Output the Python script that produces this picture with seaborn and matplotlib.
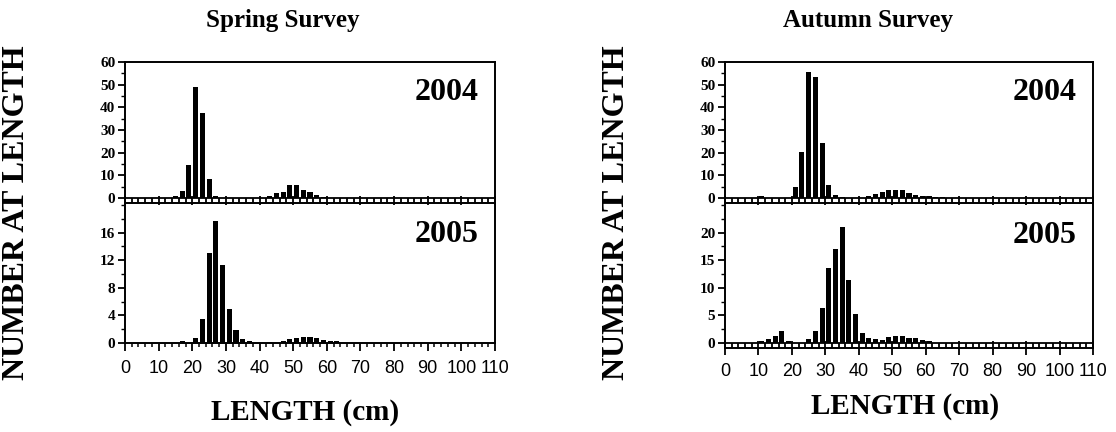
import numpy as np
import pandas as pd
import matplotlib
matplotlib.use("Agg")
import matplotlib.pyplot as plt
from matplotlib.ticker import MultipleLocator
import seaborn as sns

sns.set_theme(style="white")
plt.rcParams["font.family"] = ["Liberation Serif", "DejaVu Serif"]
plt.rcParams.update({"text.color": "black", "axes.labelcolor": "black",
                     "xtick.color": "black", "ytick.color": "black"})

# 2-cm length classes, labelled by their mid-point (1, 3, ..., 109 cm)
length_mid = np.arange(1, 111, 2)

spring_2004 = [
    0, 0, 0, 0, 0, 0, 0, 1.0, 3.0, 14.5, 49.0,
    37.5, 8.5, 1.0, 0, 0, 0, 0, 0, 0, 0, 0.7,
    2.2, 2.8, 5.8, 5.8, 3.4, 2.5, 1.2, 0.6, 0, 0, 0,
    0, 0, 0, 0, 0, 0, 0, 0, 0, 0, 0,
    0, 0, 0, 0, 0, 0, 0, 0, 0, 0, 0,
]
spring_2005 = [
    0, 0, 0, 0, 0, 0, 0, 0, 0.25, 0, 0.7,
    3.5, 13.1, 17.7, 11.35, 4.95, 1.9, 0.65, 0.3, 0, 0, 0.2,
    0, 0.25, 0.55, 0.7, 0.85, 0.8, 0.7, 0.45, 0.35, 0.25, 0,
    0, 0, 0, 0, 0, 0, 0, 0, 0, 0, 0,
    0, 0, 0, 0, 0, 0, 0, 0, 0, 0, 0,
]
autumn_2004 = [
    0, 0, 0, 0, 0, 1.0, 0, 0, 0, 0, 4.8,
    20.5, 55.5, 53.5, 24.3, 5.9, 1.5, 0.3, 0, 0, 0, 1.0,
    1.7, 2.8, 3.4, 3.5, 3.4, 2.3, 1.5, 1.0, 0.9, 0.6, 0.3,
    0, 0, 0, 0, 0, 0, 0, 0, 0, 0, 0,
    0, 0, 0, 0, 0, 0, 0, 0, 0, 0, 0,
]
autumn_2005 = [
    0, 0, 0, 0, 0, 0.4, 0.7, 1.3, 2.1, 0.4, 0,
    0, 0.7, 2.2, 6.3, 13.6, 17.0, 21.0, 11.5, 5.3, 1.8, 0.9,
    0.7, 0.55, 1.15, 1.2, 1.3, 1.0, 1.0, 0.55, 0.35, 0, 0,
    0, 0, 0, 0, 0, 0, 0, 0, 0, 0, 0,
    0, 0, 0, 0, 0, 0, 0, 0, 0, 0, 0,
]

x_ticks = list(range(0, 111, 10))
spring_2004_yticks = [0, 10, 20, 30, 40, 50, 60]
spring_2005_yticks = [0, 4, 8, 12, 16]
autumn_2004_yticks = [0, 10, 20, 30, 40, 50, 60]
autumn_2005_yticks = [0, 5, 10, 15, 20]
survey_titles = ["Spring Survey", "Autumn Survey"]
year_labels = ["2004", "2005"]
y_label = "NUMBER AT LENGTH"
x_label = "LENGTH (cm)"

W, H = 1116, 432
fig = plt.figure(figsize=(W / 100, H / 100), dpi=100)


def add_ax(left, top, right, bottom):
    return fig.add_axes([left / W, 1 - bottom / H, (right - left) / W, (bottom - top) / H])


SERIF = "Liberation Serif"
SANS = "Liberation Sans"
LADDER_PT = 3.6  # depth of the baseline "ladder" in points


def draw_panel(ax, values, ymax, ybottom, yticks, yminor, year, ladder, show_xlabels):
    df = pd.DataFrame({"length": length_mid, "count": values})
    sns.barplot(data=df, x="length", y="count", native_scale=True, width=0.75,
                color="black", saturation=1, linewidth=0, errorbar=None, ax=ax)
    ax.set_xlim(0, 110)
    ax.set_ylim(ybottom, ymax)
    ax.set_xlabel("")
    ax.set_ylabel("")
    for s in ax.spines.values():
        s.set_color("black")
        s.set_linewidth(1.4)
    ax.xaxis.set_major_locator(MultipleLocator(10))
    ax.xaxis.set_minor_locator(MultipleLocator(2))
    ax.yaxis.set_minor_locator(MultipleLocator(yminor))
    ax.set_yticks(yticks)
    ax.set_ylim(ybottom, ymax)
    ax.tick_params(axis="y", which="major", direction="out", length=5, width=1.3,
                   color="black", left=True, pad=2)
    ax.tick_params(axis="y", which="minor", direction="out", length=3, width=1.0,
                   color="black", left=True)
    if ladder:
        ax.axhline(0, color="black", lw=1.3, zorder=1)
        ax.tick_params(axis="x", which="minor", direction="in", length=LADDER_PT,
                       width=1.3, color="black", bottom=True)
        ax.tick_params(axis="x", which="major", direction="inout", length=LADDER_PT * 2.6,
                       width=1.3, color="black", bottom=True)
    else:
        ax.tick_params(axis="x", which="minor", direction="out", length=3,
                       width=1.1, color="black", bottom=True)
        ax.tick_params(axis="x", which="major", direction="out", length=6,
                       width=1.3, color="black", bottom=True)
    ax.set_xticks(x_ticks)
    if show_xlabels:
        ax.set_xticklabels([str(t) for t in x_ticks], fontfamily=SANS, fontsize=13,
                           color="black")
        ax.tick_params(axis="x", which="major", pad=6)
    else:
        ax.set_xticklabels([])
    for lab in ax.get_yticklabels():
        lab.set_fontfamily(SERIF)
        lab.set_fontweight("bold")
        lab.set_fontsize(11)
        lab.set_color("black")
    ax.text(0.955, 0.89, year, transform=ax.transAxes, ha="right", va="top",
            fontsize=23, fontweight="bold", fontfamily=SERIF, color="black")


# Spring survey column
ax = add_ax(125, 62, 495, 203)
draw_panel(ax, spring_2004, 60, -2.2, spring_2004_yticks, 5, year_labels[0], True, False)
ax = add_ax(125, 205, 495, 343)
draw_panel(ax, spring_2005, 20, 0, spring_2005_yticks, 2, year_labels[1], False, True)
ax.spines["top"].set_visible(False)

# Autumn survey column
ax = add_ax(725, 62, 1093, 203)
draw_panel(ax, autumn_2004, 60, -2.2, autumn_2004_yticks, 5, year_labels[0], True, False)
ax = add_ax(725, 205, 1093, 348)
draw_panel(ax, autumn_2005, 25, -0.9, autumn_2005_yticks, 2.5, year_labels[1], True, True)
ax.spines["top"].set_visible(False)

# Column titles and shared axis labels
for cx, title in zip([283, 868], survey_titles):
    fig.text(cx / W, 1 - 21 / H, title, ha="center", va="center",
             fontsize=18, fontweight="bold", fontfamily=SERIF, color="black")
for cx, cy in [(17, 213), (617, 213)]:
    fig.text(cx / W, 1 - cy / H, y_label, rotation=90, ha="center", va="center",
             fontsize=23, fontweight="bold", fontfamily=SERIF, color="black")
for cx, cy in [(305, 413), (905, 407)]:
    fig.text(cx / W, 1 - cy / H, x_label, ha="center", va="center",
             fontsize=21, fontweight="bold", fontfamily=SERIF, color="black")

fig.savefig("out.png", dpi=100, facecolor="white")
